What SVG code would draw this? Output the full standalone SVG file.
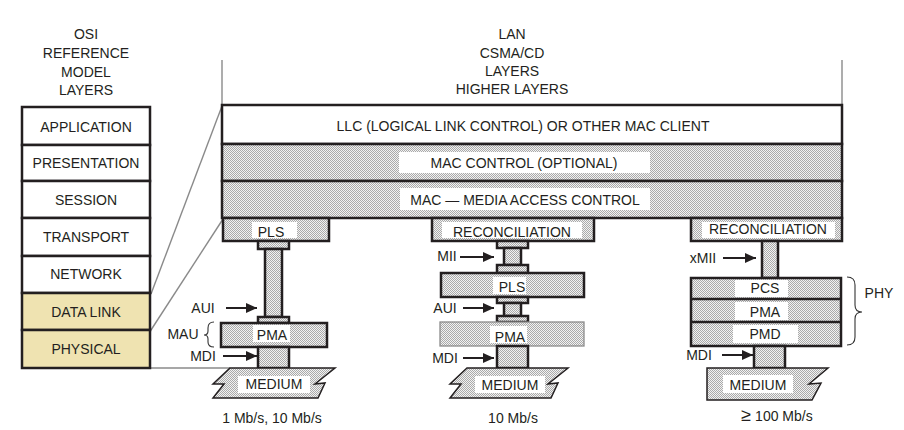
<svg xmlns="http://www.w3.org/2000/svg" width="904" height="430" viewBox="0 0 904 430">
<style>
text{font-family:"Liberation Sans",Arial,sans-serif;font-size:14px;fill:#231f20;text-anchor:middle}
.b{stroke:#231f20;stroke-width:2.5}
.w{fill:#fff}
.d{fill:url(#dots)}
.y{fill:#efe3b1}
.lbl{fill:#fff;stroke:none}
.g{stroke:#8a8a8a;stroke-width:1.4;fill:none}
.ar{stroke:#231f20;stroke-width:2;marker-end:url(#ah)}
.br{stroke:#333;stroke-width:1.1;fill:none}
</style>
<defs>
<pattern id="dots" width="2" height="2" patternUnits="userSpaceOnUse">
<rect width="2" height="2" fill="#f2f2f2"/>
<rect width="1" height="1" fill="#aaaaaa"/>
<rect x="1" y="1" width="1" height="1" fill="#aaaaaa"/>
</pattern>
<marker id="ah" viewBox="0 0 10 9" refX="10" refY="4.5" markerWidth="11" markerHeight="10" markerUnits="userSpaceOnUse" orient="auto">
<path d="M0,0 L10,4.5 L0,9 Z" fill="#231f20"/>
</marker>
</defs>

<g id="headings">
<text x="86" y="39">OSI</text>
<text x="86" y="58">REFERENCE</text>
<text x="86" y="77">MODEL</text>
<text x="86" y="95">LAYERS</text>
<text x="512" y="39">LAN</text>
<text x="512" y="58">CSMA/CD</text>
<text x="512" y="76">LAYERS</text>
<text x="512" y="94">HIGHER LAYERS</text>
</g>

<g id="connectors">
<line class="g" x1="222" y1="60" x2="222" y2="105"/>
<line class="g" x1="842" y1="60" x2="842" y2="105"/>
<line class="g" x1="222" y1="106" x2="151" y2="294"/>
<line class="g" x1="223" y1="219" x2="151" y2="330"/>
<line class="g" x1="150" y1="368" x2="230" y2="368"/>
<line class="ar" x1="226" y1="308" x2="257" y2="308"/>
<line class="ar" x1="223" y1="356" x2="257" y2="356"/>
<line class="ar" x1="460" y1="257" x2="494" y2="257"/>
<line class="ar" x1="463" y1="308" x2="494" y2="308"/>
<line class="ar" x1="463" y1="358" x2="494" y2="358"/>
<line class="ar" x1="723" y1="258" x2="756" y2="258"/>
<line class="ar" x1="722" y1="355" x2="753" y2="355"/>
</g>

<g id="osi-application"><rect class="w b" x="22" y="107" width="128" height="38"/><text x="86" y="132">APPLICATION</text></g>
<g id="osi-presentation"><rect class="w b" x="22" y="145" width="128" height="36"/><text x="86" y="168">PRESENTATION</text></g>
<g id="osi-session"><rect class="w b" x="22" y="181" width="128" height="37"/><text x="86" y="205">SESSION</text></g>
<g id="osi-transport"><rect class="w b" x="22" y="218" width="128" height="38"/><text x="86" y="242">TRANSPORT</text></g>
<g id="osi-network"><rect class="w b" x="22" y="256" width="128" height="37"/><text x="86" y="279">NETWORK</text></g>
<g id="osi-datalink"><rect class="y b" x="22" y="293" width="128" height="37"/><text x="86" y="317">DATA LINK</text></g>
<g id="osi-physical"><rect class="y b" x="22" y="330" width="128" height="38"/><text x="86" y="354">PHYSICAL</text></g>

<g id="llc"><rect class="w b" x="222" y="105" width="620" height="39"/><text x="523" y="131">LLC (LOGICAL LINK CONTROL) OR OTHER MAC CLIENT</text></g>
<g id="mac-control"><rect class="d b" x="222" y="144" width="620" height="37"/><rect class="lbl" x="399" y="152" width="251" height="21"/><text x="524" y="168">MAC CONTROL (OPTIONAL)</text></g>
<g id="mac"><rect class="d b" x="222" y="181" width="620" height="37"/><rect class="lbl" x="400" y="188" width="250" height="22"/><text x="525" y="205">MAC — MEDIA ACCESS CONTROL</text></g>

<!-- Column 1 -->
<g id="c1-pls"><rect class="d b" x="223" y="218" width="106" height="23"/><rect class="lbl" x="252" y="222" width="45" height="16"/><text x="271" y="237">PLS</text></g>
<g id="c1-aui"><rect class="d b" x="258" y="241" width="31" height="8"/><rect class="d b" x="265" y="249" width="17" height="68"/><rect class="d b" x="258" y="317" width="31" height="6"/></g>
<g id="c1-pma"><rect class="d b" x="221" y="323" width="106" height="24"/><rect class="lbl" x="253" y="325" width="37" height="17"/><text x="272" y="340">PMA</text></g>
<g id="c1-mdi"><rect class="d b" x="258" y="347" width="31" height="21"/></g>
<g id="c1-medium"><path class="d" d="M230,368 H335 L315,384 L325,383 L318,398 H213 L224,384 L213,384 Z" stroke="#231f20" stroke-width="1.5"/><rect class="lbl" x="238" y="376" width="72" height="17"/><text x="274" y="389">MEDIUM</text></g>
<g id="c1-labels">
<text x="203" y="313">AUI</text>
<text x="183" y="339">MAU</text>
<text x="203" y="361">MDI</text>
<path class="br" d="M214,322 Q208,322 208,328 L208,331 Q208,335 204,335 Q208,335 208,339 L208,342 Q208,347 214,347"/>
<text x="272" y="423">1 Mb/s, 10 Mb/s</text>
</g>

<!-- Column 2 -->
<g id="c2-reconciliation"><rect class="d b" x="432" y="218" width="162" height="23"/><rect class="lbl" x="442" y="222" width="140" height="16"/><text x="512" y="237">RECONCILIATION</text></g>
<g id="c2-mii"><rect class="d b" x="497" y="241" width="31" height="7"/><rect class="d b" x="504" y="248" width="17" height="17"/><rect class="d b" x="497" y="265" width="31" height="8"/></g>
<g id="c2-pls"><rect class="d b" x="441" y="273" width="143" height="24"/><rect class="lbl" x="493" y="277" width="33" height="17"/><text x="512" y="292">PLS</text></g>
<g id="c2-aui"><rect class="d b" x="497" y="297" width="31" height="6"/><rect class="d b" x="504" y="303" width="17" height="13"/><rect class="d b" x="497" y="316" width="31" height="6"/></g>
<g id="c2-pma"><rect class="d" x="440" y="322" width="144" height="24" stroke="#8c8c8c" stroke-width="1.3"/><rect class="lbl" x="490" y="326" width="37" height="17"/><text x="510" y="342">PMA</text></g>
<g id="c2-mdi"><rect class="d b" x="497" y="346" width="31" height="22"/></g>
<g id="c2-medium"><path class="d" d="M467,368 H568 L548,384 L558,383 L551,398 H450 L461,384 L450,384 Z" stroke="#231f20" stroke-width="1.5"/><rect class="lbl" x="475" y="376" width="70" height="17"/><text x="510" y="390">MEDIUM</text></g>
<g id="c2-labels">
<text x="447" y="261">MII</text>
<text x="445" y="313">AUI</text>
<text x="445" y="363">MDI</text>
<text x="513" y="423">10 Mb/s</text>
</g>

<!-- Column 3 -->
<g id="c3-reconciliation"><rect class="d b" x="691" y="218" width="151" height="23"/><rect class="lbl" x="702" y="222" width="133" height="16"/><text x="768" y="234">RECONCILIATION</text></g>
<g id="c3-xmii"><rect class="d b" x="762" y="241" width="16" height="37"/></g>
<g id="c3-phy">
<rect class="d b" x="691" y="278" width="150" height="68"/>
<line class="b" x1="691" y1="299" x2="841" y2="299"/>
<line class="b" x1="691" y1="322" x2="841" y2="322"/>
<rect class="lbl" x="735" y="280" width="53" height="17"/><text x="765" y="293">PCS</text>
<rect class="lbl" x="735" y="302" width="53" height="18"/><text x="765" y="317">PMA</text>
<rect class="lbl" x="733" y="325" width="65" height="18"/><text x="765" y="339">PMD</text>
</g>
<g id="c3-mdi"><rect class="d b" x="754" y="346" width="31" height="22"/></g>
<g id="c3-medium"><path class="d" d="M707,368 H828 L809,384 L821,383 L812,400 H707 Z" stroke="#231f20" stroke-width="1.5"/><rect class="lbl" x="723" y="375" width="70" height="18"/><text x="758" y="390">MEDIUM</text></g>
<g id="c3-labels">
<text x="703" y="263">xMII</text>
<text x="699" y="360">MDI</text>
<path class="br" d="M847,277 Q855,277 855,285 L855,305 Q855,312 862,312 Q855,312 855,319 L855,337 Q855,345 847,345"/>
<text x="879" y="298">PHY</text>
<text x="777" y="421"><tspan font-size="18">≥</tspan> 100 Mb/s</text>
</g>
</svg>
